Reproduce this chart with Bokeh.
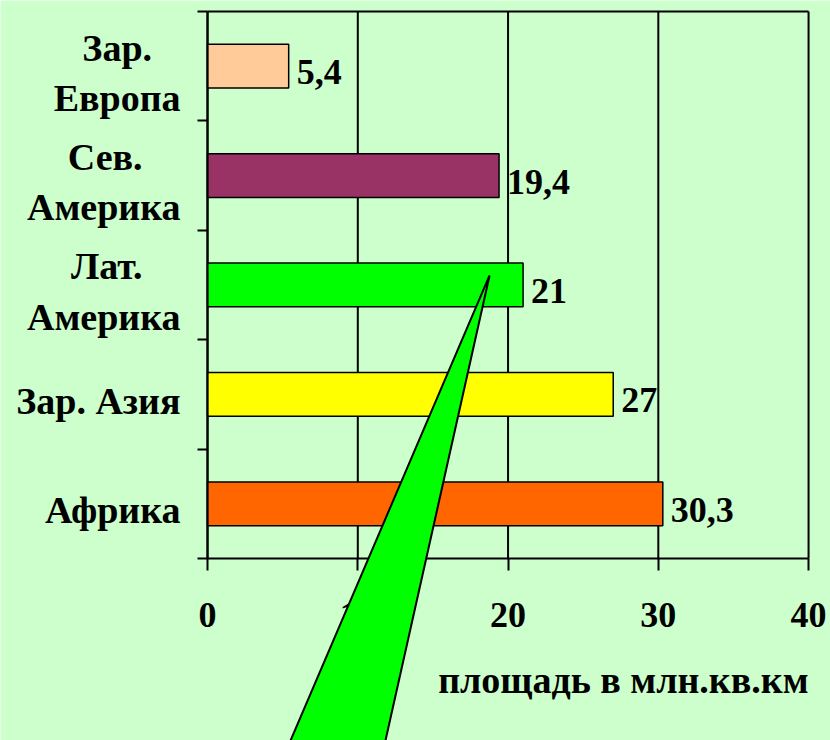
from bokeh.plotting import figure
from bokeh.models import Range1d, FixedTicker, PolyAnnotation, Label, ColumnDataSource
from bokeh.core.properties import value
from bokeh.embed import file_html
from bokeh.resources import INLINE

# ---- data ----
categories = ["Зар.\nЕвропа", "Сев.\nАмерика", "Лат.\nАмерика", "Зар. Азия", "Африка"]
areas = [5.4, 19.4, 21, 27, 30.3]
bar_colors = ["#FFCC99", "#993366", "#00FF00", "#FFFF00", "#FF6600"]
x_ticks = [0, 10, 20, 30, 40]
x_title = "площадь в млн.кв.км"

# callout triangle (decoration, in data units)
callout_x = [18.77, 5.1, 11.62]
callout_y = [2.587, -1.80, -1.80]

n = len(categories)
ypos = [n - 1 - i + 0.5 for i in range(n)]
labels = [f"{v:g}".replace(".", ",") for v in areas]

# centre the lines of two-line category labels (pad shorter first line)
NBSP = "\u00a0"
pads = [3, 4, 4, 0, 0]
cat_text = []
for c, k in zip(categories, pads):
    parts = c.split("\n")
    if len(parts) == 2:
        cat_text.append(parts[0] + NBSP * k + "\n" + parts[1])
    else:
        cat_text.append(c)

BG = "#CCFFCC"
FONT = "Liberation Serif"
LABEL_SHIFT = 0.06

# the frame covers the whole canvas; axes are pinned at x = 0 and y = 0
p = figure(width=830, height=740, output_backend="svg", toolbar_location=None,
           x_range=Range1d(-13.78, 41.46), y_range=Range1d(-1.664, 5.1006),
           min_border_left=0, min_border_right=0, min_border_top=0, min_border_bottom=0)
p.background_fill_color = BG
p.border_fill_color = BG
p.outline_line_color = None
p.grid.visible = False

# grid lines and top border (only over the category span)
p.segment(x0=x_ticks, y0=[0] * len(x_ticks), x1=x_ticks, y1=[n] * len(x_ticks),
          line_color="black", line_width=2)
p.segment(x0=[x_ticks[0]], y0=[n], x1=[x_ticks[-1]], y1=[n], line_color="black", line_width=2)

src = ColumnDataSource(dict(y=ypos, right=areas, color=bar_colors, label=labels))
p.hbar(y="y", right="right", left=0, height=0.4, fill_color="color",
       line_color="black", line_width=1.5, source=src)
p.text(x="right", y="y", text="label", source=src, x_offset=8, y_offset=6,
       text_baseline="middle", text_align="left",
       text_font=value(FONT), text_font_style="bold", text_font_size="36px",
       text_color="black")

# x axis (drawn at y = 0)
xa = p.xaxis[0]
xa.fixed_location = 0
xa.bounds = (x_ticks[0], x_ticks[-1])
xa.ticker = FixedTicker(ticks=x_ticks, minor_ticks=[])
xa.axis_line_width = 2
xa.major_tick_line_width = 2
xa.major_tick_in = 0
xa.major_tick_out = 12
xa.major_label_standoff = 33
xa.major_label_text_font = FONT
xa.major_label_text_font_style = "bold"
xa.major_label_text_font_size = "36px"
xa.major_label_text_color = "black"

# y axis (drawn at x = 0)
lab_pos = [y - LABEL_SHIFT for y in ypos]
ya = p.yaxis[0]
ya.fixed_location = 0
ya.bounds = (0, n)
ya.ticker = FixedTicker(ticks=lab_pos, minor_ticks=list(range(n + 1)))
ya.major_label_overrides = {y: c for y, c in zip(lab_pos, cat_text)}
ya.axis_line_width = 2
ya.major_tick_in = 0
ya.major_tick_out = 0
ya.minor_tick_in = 0
ya.minor_tick_out = 10
ya.minor_tick_line_width = 2
ya.major_label_standoff = 17
ya.major_label_text_font = FONT
ya.major_label_text_font_style = "bold"
ya.major_label_text_font_size = "38px"
ya.major_label_text_color = "black"

title = Label(x=x_ticks[-1], y=-1.115, text=x_title, text_align="right",
              text_baseline="alphabetic", text_font=FONT, text_font_style="bold",
              text_font_size="38px", text_color="black")
p.add_layout(title)

tri = PolyAnnotation(xs=callout_x, ys=callout_y, fill_color="#00FF00", fill_alpha=1,
                     line_color="black", line_alpha=1, line_width=2)
p.add_layout(tri)

open("out.html", "w").write(file_html(p, INLINE))
